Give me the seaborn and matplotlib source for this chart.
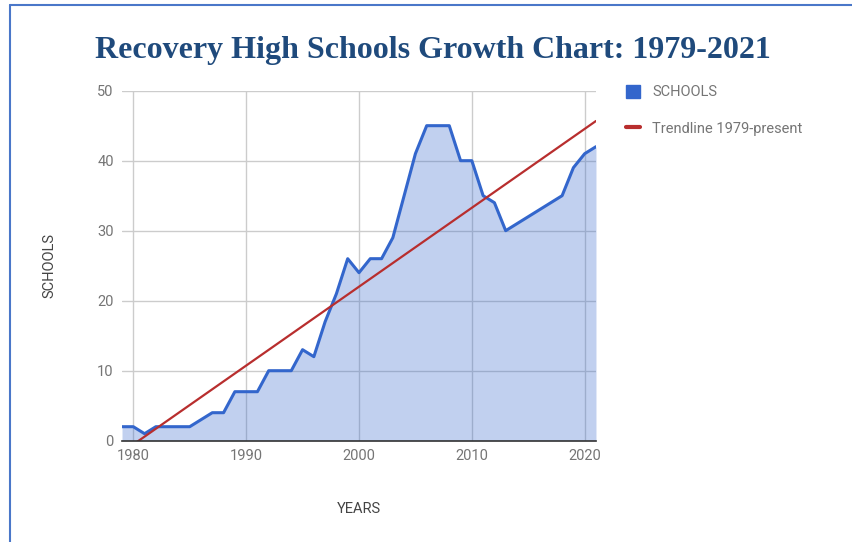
import numpy as np
import pandas as pd
import seaborn as sns
import matplotlib.pyplot as plt
from matplotlib.lines import Line2D
from matplotlib.patches import Patch

# data
years = list(range(1979, 2022))
schools = [2, 2, 1, 2, 2, 2, 2, 3, 4, 4,
           7, 7, 7, 10, 10, 10, 13, 12, 17, 21,
           26, 24, 26, 26, 29, 35, 41, 45, 45, 45,
           40, 40, 35, 34, 30, 31, 32, 33, 34, 35,
           39, 41, 42]
x_ticks = [1980, 1990, 2000, 2010, 2020]
y_ticks = [0, 10, 20, 30, 40, 50]

df = pd.DataFrame({"year": years, "schools": schools})

blue = "#3366cc"
red = "#b82e2e"
grey = "#757575"

sns.set_style("white")
plt.rcParams['font.family'] = ['Roboto', 'DejaVu Sans']

fig = plt.figure(figsize=(8.52, 5.42), dpi=100)
ax = fig.add_axes([0.1432, 0.1869, 0.5563, 0.6458])

# grid first, area on top with transparency so grid shows through
ax.set_axisbelow(True)
ax.grid(True, color="#cccccc", linewidth=1.0)
ax.fill_between(df["year"], df["schools"], 0, color=blue, alpha=0.3, linewidth=0, zorder=2)
sns.lineplot(data=df, x="year", y="schools", color=blue, linewidth=2.2, ax=ax, zorder=3)
sns.regplot(data=df, x="year", y="schools", scatter=False, ci=None, truncate=True,
            line_kws={"color": red, "linewidth": 1.6, "zorder": 4}, ax=ax)

ax.set_xlim(1979, 2021)
ax.set_ylim(0, 50)
ax.set_xticks(x_ticks)
ax.set_yticks(y_ticks)
ax.tick_params(axis="both", length=0, labelsize=10.5, labelcolor=grey)
ax.tick_params(axis="x", pad=6)
ax.tick_params(axis="y", pad=6)
for side in ["top", "right", "left"]:
    ax.spines[side].set_visible(False)
ax.spines["bottom"].set_color("#333333")
ax.spines["bottom"].set_linewidth(1.2)
ax.spines["bottom"].set_zorder(5)

ax.set_xlabel("YEARS", fontsize=10.5, color="#444444", labelpad=28)
ax.set_ylabel("SCHOOLS", fontsize=10.5, color="#444444", labelpad=29)

handles = [Patch(facecolor=blue, edgecolor=blue),
           Line2D([0], [0], color=red, linewidth=3)]
ax.legend(handles, ["SCHOOLS", "Trendline 1979-present"], loc="upper left",
          bbox_to_anchor=(1.035, 1.055), frameon=False, fontsize=10.5,
          labelcolor=grey, handlelength=1.0, handleheight=1.0,
          handletextpad=0.8, labelspacing=1.55)

fig.text(0.508, 0.907, "Recovery High Schools Growth Chart: 1979-2021",
         ha="center", va="center", fontsize=23, fontweight="bold",
         color="#1f4a7c", family="Liberation Serif")

# blue frame around the image
fig.add_artist(Line2D([10 / 852, 10 / 852], [0, 1 - 5 / 542], color="#4a77c9", linewidth=1.5))
fig.add_artist(Line2D([10 / 852, 1], [1 - 5 / 542, 1 - 5 / 542], color="#4a77c9", linewidth=1.5))

fig.savefig("out.png", dpi=100)
